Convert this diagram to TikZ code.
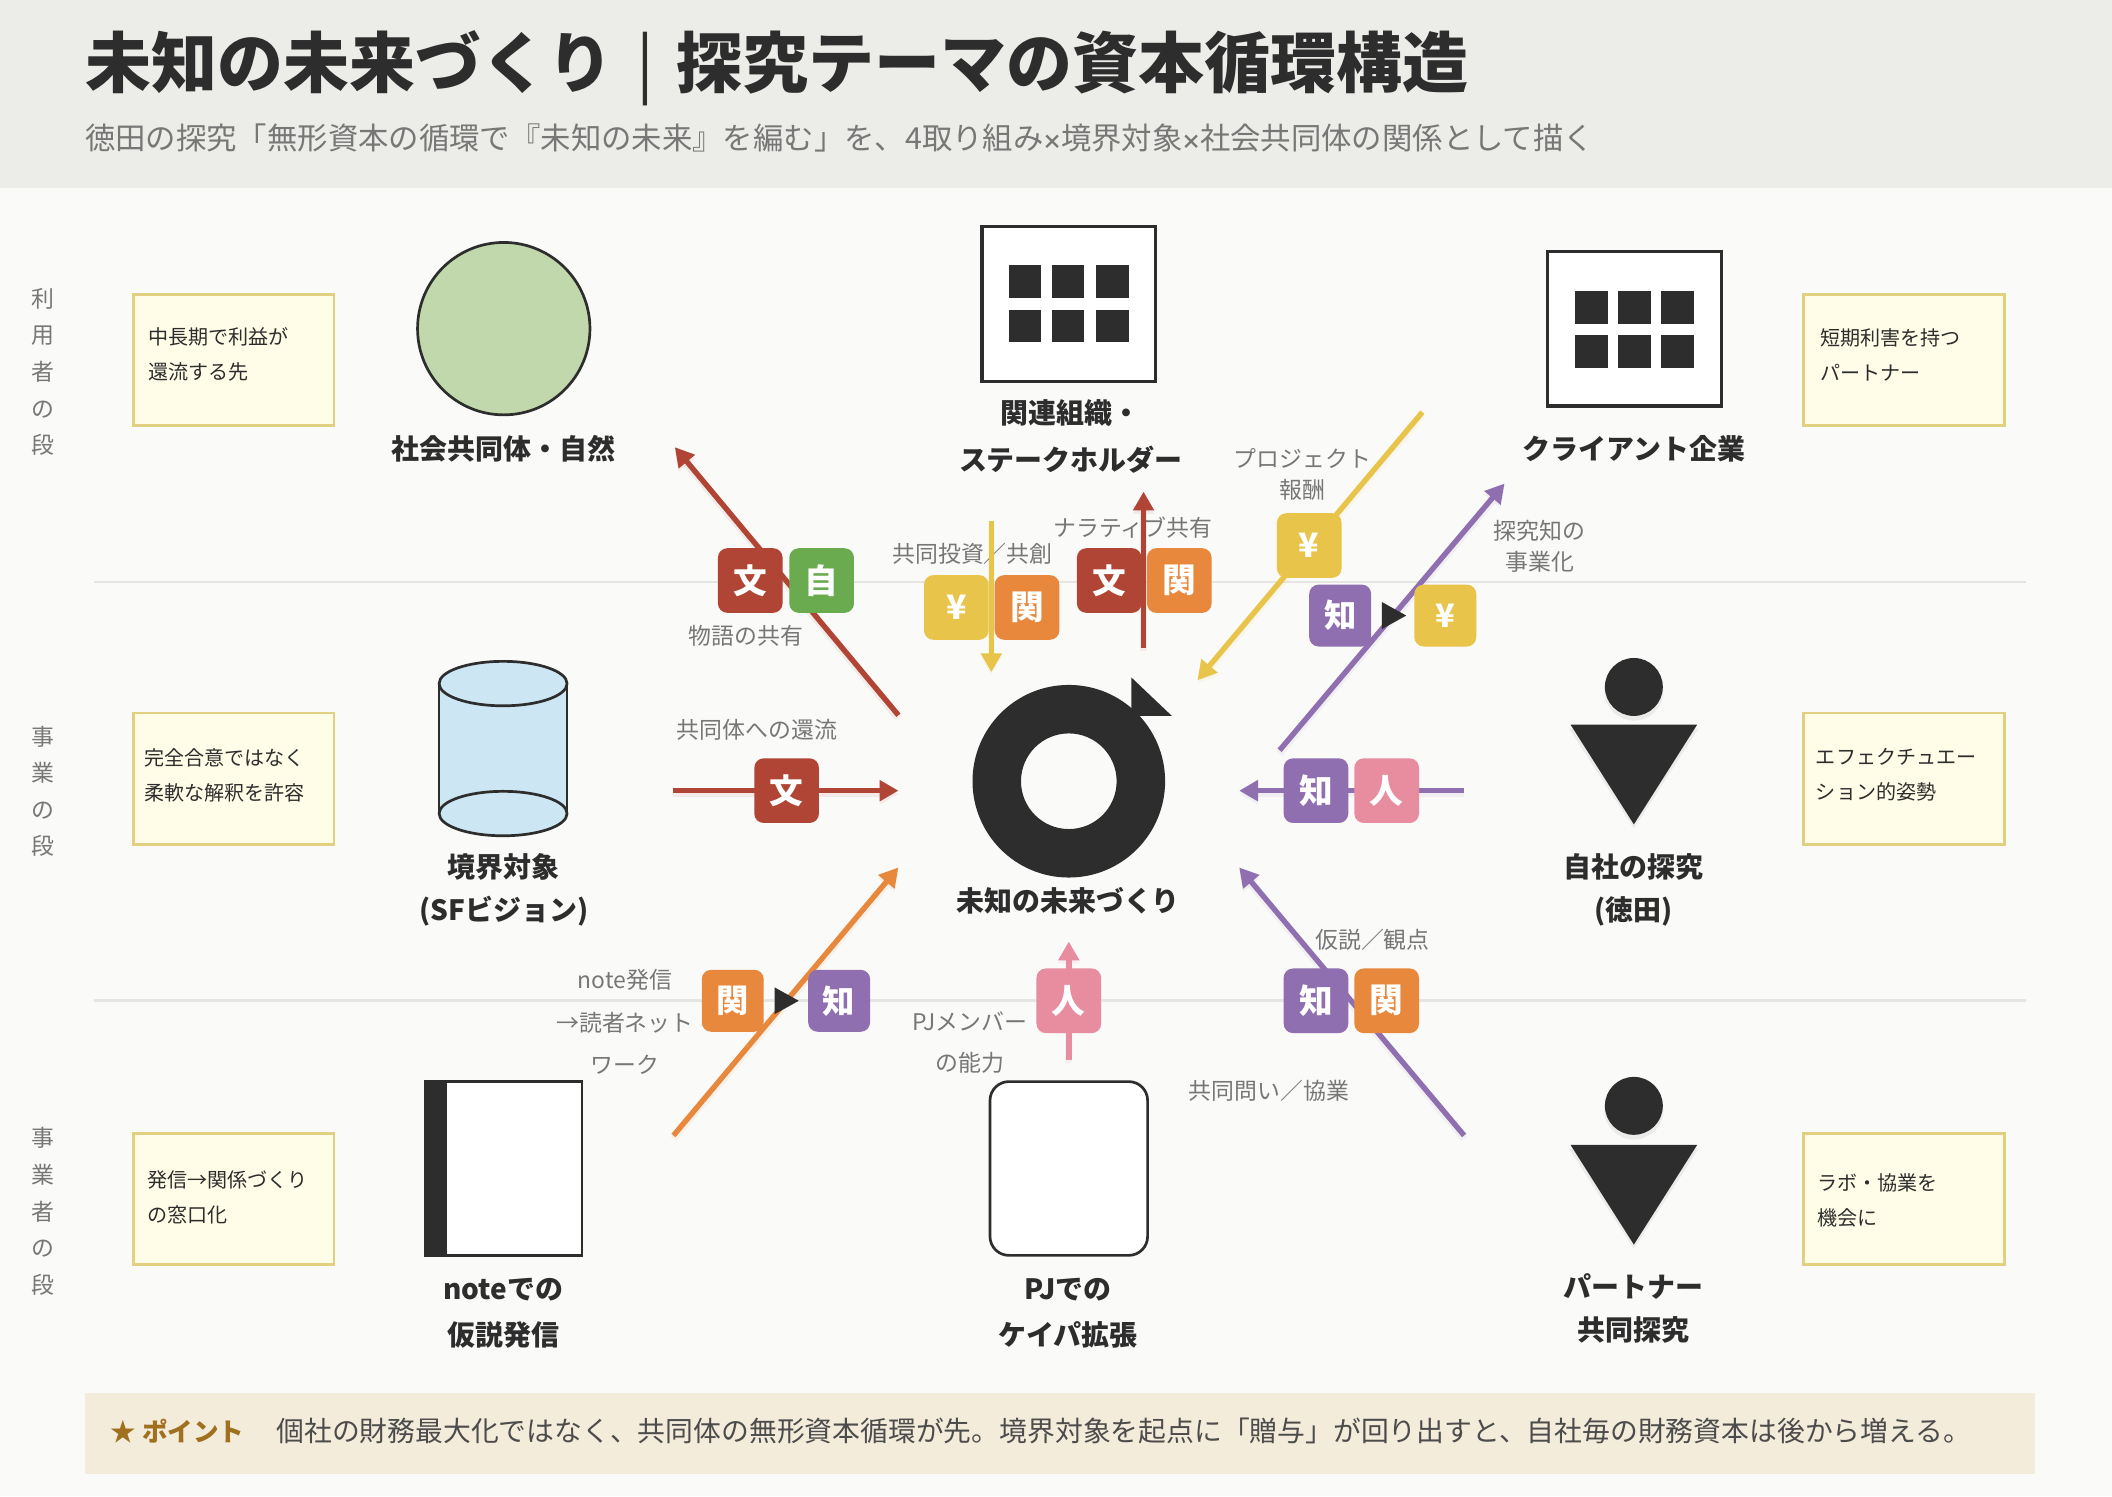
\documentclass[tikz,border=0pt]{standalone}
\usepackage{fontspec}
\setmainfont{Noto Sans CJK JP}
\usetikzlibrary{arrows.meta}
\definecolor{bgc}{HTML}{FAFAF8}
\definecolor{headc}{HTML}{ECEDE8}
\definecolor{ink}{HTML}{2D2D2D}
\definecolor{grayt}{HTML}{777777}
\definecolor{rulec}{HTML}{E5E5E2}
\definecolor{notef}{HTML}{FFFDE7}
\definecolor{noted}{HTML}{E0D080}
\definecolor{bunc}{HTML}{B04535}
\definecolor{jic}{HTML}{6AAB4F}
\definecolor{yenc}{HTML}{E8C44A}
\definecolor{kanc}{HTML}{E8883C}
\definecolor{chic}{HTML}{8F6FB0}
\definecolor{jinc}{HTML}{E88CA0}
\definecolor{pointf}{HTML}{F3ECDB}
\definecolor{pointc}{HTML}{A0701E}
\definecolor{commc}{HTML}{C0D8AC}
\definecolor{cylc}{HTML}{CCE6F4}
\newcommand{\fs}[2]{\fontsize{#1}{#2}\selectfont}
\newcommand{\tm}{\hspace{-1pt}{\bfseries\fs{15}{15}×}\hspace{-1pt}}
\newcommand{\conn}[3]{%
  \draw[line width=5pt,black,opacity=.08,transform canvas={yshift=-2.5pt},arr=#3] (#1) -- (#2);
  \draw[line width=4pt,arr=#3] (#1) -- (#2);}
\tikzset{
  arr/.style={-{Triangle[length=14pt,width=15pt]},draw=#1,color=#1},
  badge/.style={fill=#1,text=white,rounded corners=7pt,inner sep=0pt,minimum width=48pt,minimum height=48pt,font=\bfseries\fs{25}{25}},
  sbadge/.style={badge=#1,minimum width=46pt,minimum height=46pt,font=\bfseries\fs{24}{24}},
  notebox/.style={rectangle,draw=noted,fill=notef,line width=2pt,minimum width=149pt,minimum height=97.5pt,inner sep=0pt},
  notetext/.style={anchor=west,align=left,text=ink,inner sep=0pt,font=\fs{14.9}{26}},
  lane/.style={align=center,text=grayt,inner sep=0pt,font=\fs{17}{27.2}},
  shapelab/.style={align=center,text=ink,inner sep=0pt,font=\bfseries\fs{20.75}{32}},
  edgelab/.style={align=center,text=grayt,inner sep=0pt,font=\fs{17}{31.5}},
  edgelabb/.style={align=center,text=grayt,inner sep=0pt,font=\fs{17}{23}},
  win/.style={fill=ink},
  house/.style={rectangle,draw=ink,fill=white,line width=2.5pt,inner sep=0pt,minimum width=129pt,minimum height=115pt},
}
\begin{document}
\begin{tikzpicture}[x=1pt,y=-1pt]
\useasboundingbox (0,0) rectangle (1568,1110.67);
\fill[bgc] (0,0) rectangle (1568,1110.67);
\fill[headc] (0,0) rectangle (1568,139.5);
\node[anchor=west,inner sep=0pt,text=ink,font=\bfseries\fs{49}{49}] (title) at (63,50.5) {未知の未来づくり\hspace{17pt}{\mdseries|}\hspace{17pt}探究テーマの資本循環構造};
\node[anchor=west,inner sep=0pt,text=grayt,font=\fs{22.55}{22.55}] (subtitle) at (63,102.5) {徳田の探究「無形資本の循環で『未知の未来』を編む」を、4取り組み\tm 境界対象\tm 社会共同体の関係として描く};
% lanes
\coordinate (r1a) at (70,432); \coordinate (r1b) at (1504,432);
\coordinate (r2a) at (70,743); \coordinate (r2b) at (1504,743);
\draw[rulec,line width=2pt] (r1a) -- (r1b);
\draw[rulec,line width=2pt] (r2a) -- (r2b);
\node[lane] (lane1) at (32,276) {利\\用\\者\\の\\段};
\node[lane] (lane2) at (32,587.5) {事\\業\\の\\段};
\node[lane] (lane3) at (32,899.5) {事\\業\\者\\の\\段};
% notes
\node[notebox] (n1) at (173.5,267.2) {};
\node[notebox] (n2) at (173.5,578.2) {};
\node[notebox] (n3) at (173.5,890.2) {};
\node[notebox] (n4) at (1413.5,267.2) {};
\node[notebox] (n5) at (1413.5,578.2) {};
\node[notebox] (n6) at (1413.5,890.2) {};
\node[notetext] (t1) at (110,263) {中長期で利益が\\還流する先};
\node[notetext] (t2) at (107,576) {完全合意ではなく\\柔軟な解釈を許容};
\node[notetext] (t3) at (109,889) {発信→関係づくり\\の窓口化};
\node[notetext] (t4) at (1351,263.5) {短期利害を持つ\\パートナー};
\node[notetext] (t5) at (1348,575) {エフェクチュエー\\ション的姿勢};
\node[notetext] (t6) at (1349,891) {ラボ・協業を\\機会に};
% community
\node[circle,draw=ink,fill=commc,line width=2pt,minimum size=128pt,inner sep=0pt] (comm) at (374,244) {};
\node[shapelab] (commlab) at (374,333) {社会共同体・自然};
% stakeholder building
\node[house] (stake) at (793.5,225.5) {};
\foreach \x in {749,781,814} \foreach \y in {197,230} \fill[win] (\x,\y) rectangle +(24,24);
\node[shapelab,font=\bfseries\fs{20.75}{35}] (stakelab) at (795,324) {関連組織・\\ステークホルダー};
% client building
\node[house] (client) at (1213.5,244) {};
\foreach \x in {1169,1201,1233} \foreach \y in {216,248.5} \fill[win] (\x,\y) rectangle +(24.5,24.5);
\node[shapelab] (clientlab) at (1213,333) {クライアント企業};
% cylinder
\fill[cylc] (373.5,604) ellipse[x radius=47.5,y radius=16.5];
\fill[cylc] (326,507.5) rectangle (421,604);
\draw[ink,line width=2pt] (326,507.5) -- (326,604) (421,507.5) -- (421,604);
\draw[ink,line width=2pt] (373.5,604) ellipse[x radius=47.5,y radius=16.5];
\draw[ink,line width=2pt,fill=cylc] (373.5,507.5) ellipse[x radius=47.5,y radius=16.5];
\node[shapelab] (cyllab) at (374,660.5) {境界対象\\(SFビジョン)};
% centre
\fill[ink,even odd rule] (793.5,580) circle[radius=71.5] (793.5,580) circle[radius=35.5];
\fill[ink] (840,503) -- (870,531.5) -- (840,531.5) -- cycle;
\node[shapelab] (hublab) at (793,668.5) {未知の未来づくり};
% persons
\fill[black,opacity=.06] (1213,513) circle[radius=22];
\fill[black,opacity=.06] (1165,541) -- (1261,541) -- (1213,615) -- cycle;
\fill[ink] (1213,510) circle[radius=21.5];
\fill[ink] (1166,538) -- (1260,538) -- (1213,612) -- cycle;
\node[shapelab] (selflab) at (1213,660.5) {自社の探究\\(徳田)};
\fill[black,opacity=.06] (1213,824) circle[radius=22];
\fill[black,opacity=.06] (1165,853) -- (1261,853) -- (1213,927) -- cycle;
\fill[ink] (1213,821) circle[radius=21.5];
\fill[ink] (1166,850) -- (1260,850) -- (1213,924) -- cycle;
\node[shapelab] (partlab) at (1213,971.5) {パートナー\\共同探究};
% note book
\node[rectangle,draw=ink,fill=white,line width=2pt,minimum width=116pt,minimum height=129pt,inner sep=0pt] (book) at (374,867.5) {};
\fill[ink] (316,803) rectangle (332,932);
\node[shapelab,font=\bfseries\fs{20.75}{34}] (booklab) at (373.5,975) {noteでの\\仮説発信};
% PJ
\node[rectangle,draw=ink,fill=white,line width=2pt,rounded corners=14pt,minimum width=117pt,minimum height=129pt,inner sep=0pt] (pj) at (793.5,867.5) {};
\node[shapelab,font=\bfseries\fs{20.75}{34}] (pjlab) at (793,975) {PJでの\\ケイパ拡張};
% edge labels
\node[edgelab] (l1) at (722,411.5) {共同投資／共創};
\node[edgelab] (l2) at (841,391.5) {ナラティブ共有};
\node[edgelab] (l3) at (554,472) {物語の共有};
\node[edgelabb] (l4) at (967,352) {プロジェクト\\報酬};
\node[edgelabb] (l5) at (1143,405.5) {探究知の\\事業化};
\node[edgelab] (l6) at (562,542) {共同体への還流};
\node[edgelab] (l7) at (464,759) {note発信\\→読者ネット\\ワーク};
\node[edgelabb,font=\fs{17}{30}] (l8) at (720,774) {PJメンバー\\の能力};
\node[edgelab] (l9) at (1019,698) {仮説／観点};
\node[edgelab] (l10) at (942,810) {共同問い／協業};
% connector ends
\coordinate (a1s) at (667,531); \coordinate (a1e) at (501,332);
\coordinate (a2s) at (849,481); \coordinate (a2e) at (849,365);
\coordinate (a3s) at (736,387); \coordinate (a3e) at (736,499);
\coordinate (a4s) at (1056,306); \coordinate (a4e) at (889,505);
\coordinate (a5s) at (950,557); \coordinate (a5e) at (1117,359);
\coordinate (a6s) at (500,587); \coordinate (a6e) at (667,587);
\coordinate (a7s) at (1087,587); \coordinate (a7e) at (920,587);
\coordinate (a8s) at (500,843); \coordinate (a8e) at (667,644);
\coordinate (a9s) at (1087,843); \coordinate (a9e) at (920,644);
\coordinate (a10s) at (793.5,787); \coordinate (a10e) at (793.5,699);
\conn{a1s}{a1e}{bunc}
\conn{a2s}{a2e}{bunc}
\conn{a3s}{a3e}{yenc}
\conn{a4s}{a4e}{yenc}
\conn{a5s}{a5e}{chic}
\conn{a6s}{a6e}{bunc}
\conn{a7s}{a7e}{chic}
\conn{a8s}{a8e}{kanc}
\conn{a9s}{a9e}{chic}
\conn{a10s}{a10e}{jinc}
% badges
\node[badge=bunc] (b1) at (557,431) {文};
\node[badge=jic] (b2) at (610,431) {自};
\node[badge=yenc] (b3) at (710,451) {¥};
\node[badge=kanc] (b4) at (762.5,451) {関};
\node[badge=bunc] (b5) at (823.5,431) {文};
\node[badge=kanc] (b6) at (875.5,431) {関};
\node[badge=yenc] (b7) at (972,405) {¥};
\node[sbadge=chic] (b8) at (995,457) {知};
\node[sbadge=yenc] (b9) at (1073,457) {¥};
\fill[ink] (1026,447) -- (1044,457) -- (1026,467) -- cycle;
\node[badge=bunc] (b10) at (584,587) {文};
\node[badge=chic] (b11) at (977,587) {知};
\node[badge=jinc] (b12) at (1029.5,587) {人};
\node[sbadge=kanc] (b13) at (544,743) {関};
\fill[ink] (575,733) -- (593,743) -- (575,753) -- cycle;
\node[sbadge=chic] (b14) at (623,743) {知};
\node[badge=jinc] (b15) at (793.5,743) {人};
\node[badge=chic] (b16) at (977,743) {知};
\node[badge=kanc] (b17) at (1029.5,743) {関};
% point band
\fill[pointf] (63,1034) rectangle (1511,1094);
\node[anchor=west,inner sep=0pt,text=pointc,font=\bfseries\fs{19}{19}] (pt) at (82,1062.5) {★ ポイント};
\node[anchor=west,inner sep=0pt,text=ink!85,font=\fs{20.65}{20.65}] (ptt) at (205,1062.5) {個社の財務最大化ではなく、共同体の無形資本循環が先。境界対象を起点に「贈与」が回り出すと、自社毎の財務資本は後から増える。};
\end{tikzpicture}
\end{document}
